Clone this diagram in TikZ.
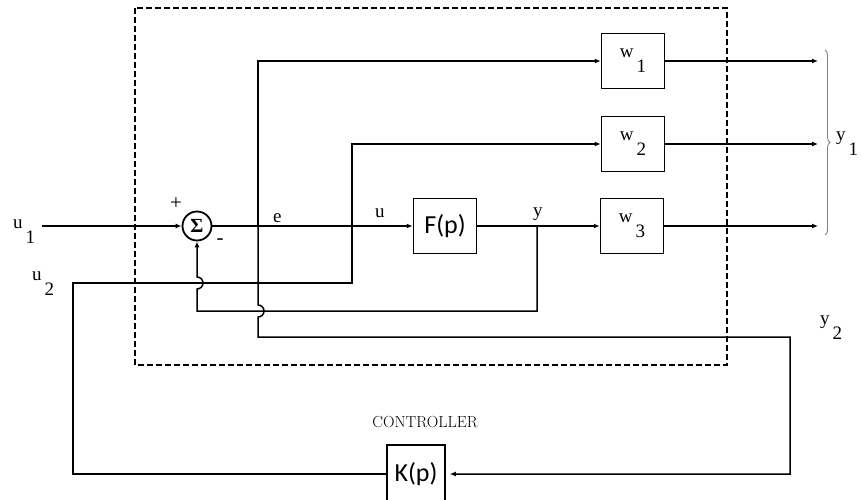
\documentclass[tikz,border=0pt]{standalone}
\usepackage{fontspec}
\newfontfamily\guifont{Carlito}
\newfontfamily\labfont{Liberation Serif}
\usetikzlibrary{arrows.meta,positioning,calc,decorations.pathreplacing}
\tikzset{
  blk/.style={draw, line width=1.5pt, minimum width=63pt, minimum height=55pt, inner sep=0pt},
  sumpt/.style={draw, circle, line width=1.8pt, minimum size=29pt, inner sep=0pt},
  wire/.style={line width=1.5pt},
  sig/.style={wire, -{Latex[length=6pt,width=5pt]}},
  lbl/.style={font=\labfont\fontsize{19}{19}\selectfont, inner sep=0pt},
  bound/.style={dash pattern=on 6pt off 3pt, line width=1.3pt},
}
\newcommand{\sublab}[2]{#1\hspace{3pt}\raisebox{-15pt}{#2}}

\begin{document}
\begin{tikzpicture}[x=1pt,y=-1pt]
\useasboundingbox (0,0) rectangle (862,500);

% Plant boundary
\draw[bound] (135,8) rectangle (727,365);

% Blocks
\node[sumpt, font=\labfont\bfseries\fontsize{20}{20}\selectfont] (sum) at (197,226) {Σ};
\node[blk, font=\guifont\fontsize{26}{26}\selectfont] (F) at (445,226) {F(p)};
\node[blk, lbl] (W1) at (633,61) {\sublab{w}{1}};
\node[blk, lbl] (W2) at (633,144) {\sublab{w}{2}};
\node[blk, lbl] (W3) at (632,226) {\sublab{w}{3}};
\node[blk, font=\guifont\fontsize{26}{26}\selectfont, minimum width=58pt, minimum height=58pt] (K) at (416,474) {K(p)};

% Junctions
\coordinate (ej) at (258,226);
\coordinate (uj) at (352,226);
\coordinate (yj) at (537,226);
\coordinate (u1in) at (42,226);
\coordinate (u2c) at (73,283);
\coordinate (fby) at (537,311);
\coordinate (fbs) at (197,311);
\coordinate (kr) at (790,337);

% Forward path
\draw[sig] (u1in) -- (sum.west);
\draw[wire] (sum.east) -- (ej) -- (uj);
\draw[sig] (ej) |- (W1.west);
\draw[sig] (uj) |- (W2.west);
\draw[sig] (uj) -- (F.west);
\draw[wire] (F.east) -- (yj);
\draw[sig] (yj) -- (W3.west);

% Outputs
\coordinate (z1) at (818,61);
\coordinate (z2) at (818,144);
\coordinate (z3) at (818,226);
\draw[sig] (W1.east) -- (z1);
\draw[sig] (W2.east) -- (z2);
\draw[sig] (W3.east) -- (z3);
\draw[decorate, decoration={brace, amplitude=5pt}, gray, line width=0.9pt] (825,50) -- (825,235);

% Feedback of y
\draw[sig] (yj) -- (fby) -- (fbs) -- ++(0,-22)
      arc[start angle=90, end angle=-90, radius=6] -- (sum.south);

% e to controller
\draw[sig, shorten >=4pt] (ej) -- ++(0,79)
      arc[start angle=-90, end angle=90, radius=6] |- (kr) |- (K.east);

% Controller output u2
\draw[wire] (K.west) -| (u2c) -| (uj);

% Labels
\node[lbl, anchor=base west] at (13,228) {\sublab{u}{1}};
\node[lbl, anchor=base west] at (32,280) {\sublab{u}{2}};
\node[lbl, anchor=base west] at (273,222) {e};
\node[lbl, anchor=base west] at (375,217) {u};
\node[lbl, anchor=base west] at (533,216) {y};
\node[lbl, anchor=base west] at (836,141) {\sublab{y}{1}};
\node[lbl, anchor=base west] at (820,324) {\sublab{y}{2}};
\node[lbl, font=\labfont\fontsize{21}{21}\selectfont] at (176,204) {+};
\node[lbl, font=\labfont\fontsize{21}{21}\selectfont] at (220,242) {-};
\node[font=\fontsize{16}{16}\selectfont, anchor=base] at (425,427) {CONTROLLER};

\end{tikzpicture}
\end{document}
